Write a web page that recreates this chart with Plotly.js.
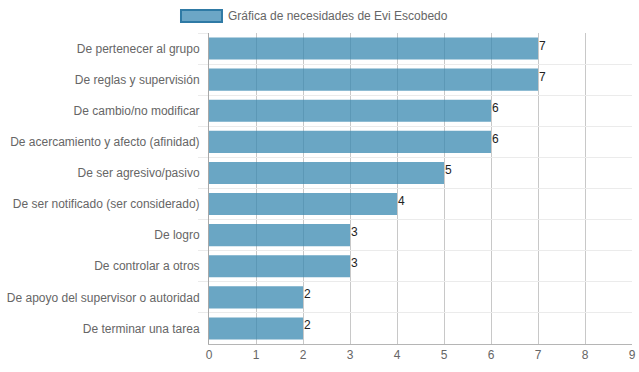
<!DOCTYPE html>
<html>
<head>
<meta charset="utf-8">
<script src="https://cdn.plot.ly/plotly-3.0.1.min.js"></script>
<style>html,body{margin:0;padding:0;background:#fff}#chart{width:639px;height:372px}</style>
</head>
<body>
<div id="chart"></div>
<script>
var categories = [
  "De pertenecer al grupo",
  "De reglas y supervisión",
  "De cambio/no modificar",
  "De acercamiento y afecto (afinidad)",
  "De ser agresivo/pasivo",
  "De ser notificado (ser considerado)",
  "De logro",
  "De controlar a otros",
  "De apoyo del supervisor o autoridad",
  "De terminar una tarea"
];
var values = [7, 7, 6, 6, 5, 4, 3, 3, 2, 2];
var seriesName = "Gráfica de necesidades de Evi Escobedo";
var xTicks = [0, 1, 2, 3, 4, 5, 6, 7, 8, 9];

var font = "Liberation Sans, Arial, Helvetica, sans-serif";

var trace = {
  type: "bar",
  orientation: "h",
  x: values,
  y: categories,
  width: 0.71,
  marker: {color: "rgba(56,136,176,0.75)", line: {width: 0}},
  hoverinfo: "x+y",
  showlegend: false
};

var annotations = values.map(function (v, i) {
  return {
    x: v, y: categories[i], xref: "x", yref: "y",
    text: String(v), showarrow: false,
    xanchor: "left", yanchor: "middle", xshift: -1, yshift: 3,
    font: {family: font, size: 12, color: "#222"}
  };
});
annotations.push({
  xref: "paper", yref: "paper", x: 0.0400, y: 1.0547,
  xanchor: "left", yanchor: "middle", showarrow: false,
  text: seriesName, font: {family: font, size: 12, color: "#666"}
});

var layout = {
  width: 639, height: 372,
  margin: {l: 209, r: 7, t: 33, b: 28, pad: 0},
  paper_bgcolor: "#fff", plot_bgcolor: "#fff",
  font: {family: font, size: 12, color: "#666"},
  xaxis: {
    range: [0, 9], tickvals: xTicks, ticktext: xTicks.map(String),
    showgrid: true, gridcolor: "#c8c8c8", gridwidth: 1,
    zeroline: false, showline: true, linecolor: "#b5b5b5", linewidth: 1,
    ticks: "", tickfont: {family: font, size: 12, color: "#666"},
    fixedrange: true
  },
  yaxis: {
    type: "category", autorange: "reversed",
    tickson: "boundaries", ticks: "outside", ticklen: 10, tickcolor: "#ebebeb",
    ticklabelstandoff: 6,
    showgrid: true, gridcolor: "#ebebeb", gridwidth: 1,
    zeroline: false, showline: true, linecolor: "#a8a8a8", linewidth: 1,
    tickfont: {family: font, size: 12, color: "#666"},
    fixedrange: true
  },
  shapes: [{
    type: "rect", xref: "paper", yref: "paper",
    x0: -0.0662, x1: 0.0307, y0: 1.0354, y1: 1.0740,
    fillcolor: "rgba(108,166,198,1)", line: {color: "#2f7aa5", width: 2}
  }],
  annotations: annotations,
  showlegend: false
};

Plotly.newPlot("chart", [trace], layout, {displayModeBar: false, staticPlot: true});
</script>
</body>
</html>
